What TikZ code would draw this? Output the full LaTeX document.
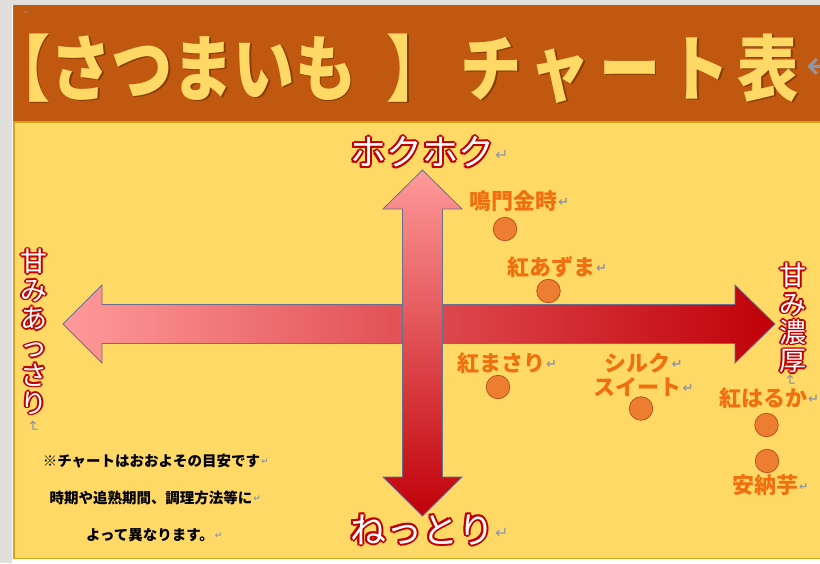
\documentclass[tikz,border=0pt]{standalone}
\usepackage{fontspec}
\setmainfont{Noto Sans CJK JP}
\newfontfamily\jp{Noto Sans CJK JP}
\newfontfamily\dv{DejaVu Sans}
\definecolor{pagegray}{HTML}{E1DFDC}
\definecolor{titlebrown}{HTML}{C0580F}
\definecolor{titleyellow}{HTML}{FFD966}
\definecolor{titleshadow}{HTML}{8A3C08}
\definecolor{paper}{HTML}{FFD966}
\definecolor{goldline}{HTML}{D9A21A}
\definecolor{pageedge}{HTML}{5B7FB5}
\definecolor{rimred}{HTML}{C00000}
\definecolor{lightpink}{HTML}{FF9A9A}
\definecolor{darkred}{HTML}{C00008}
\definecolor{arrowedge}{HTML}{6B6F8F}
\definecolor{orangetxt}{HTML}{F0700F}
\definecolor{dotfill}{HTML}{ED7D31}
\definecolor{dotedge}{HTML}{B8571E}
\definecolor{markgray}{HTML}{8E97A8}
\newcommand\rimtxt[2][2pt]{{\setbox0\hbox{#2}\dimen0=#1\relax\dimen2=0.7071\dimen0
\color{rimred}%
\rlap{\kern\dimen0\copy0}\rlap{\kern-\dimen0\copy0}%
\rlap{\raise\dimen0\copy0}\rlap{\lower\dimen0\copy0}%
\rlap{\kern\dimen2\raise\dimen2\copy0}\rlap{\kern-\dimen2\raise\dimen2\copy0}%
\rlap{\kern\dimen2\lower\dimen2\copy0}\rlap{\kern-\dimen2\lower\dimen2\copy0}%
\color{white}\box0}}
\newcommand\vrimline[1]{\rimtxt[1.6pt]{#1}}
\newcommand\shadowtxt[1]{{\setbox0\hbox{#1}\color{titleshadow}\rlap{\kern1.8pt\lower1.8pt\copy0}\color{titleyellow}\box0}}
\newcommand\pmark[1][11]{{\dv\color{markgray}\fontsize{#1}{#1}\selectfont ↵}}
\newcommand\lmark[2][12]{\rlap{\kern1pt\raise#2\hbox{\pmark[#1]}}}
\newcommand\kk{\kern9.6pt}
\begin{document}
\lineskiplimit=-30pt
\lineskip=0pt
\begin{tikzpicture}[x=1pt,y=-1pt,
  rimlabel/.style={inner sep=0pt, font=\jp\fontsize{36}{36}\selectfont},
  vrim/.style={inner sep=0pt, align=center, font=\jp\fontsize{27}{28.3}\selectfont},
  variety/.style={inner sep=0pt, text=orangetxt, align=center, font=\jp\bfseries\fontsize{22}{24}\selectfont},
  dot/.style={circle, inner sep=0pt, minimum size=23.5pt, fill=dotfill, draw=dotedge, line width=0.8pt},
  note/.style={inner sep=0pt, font=\jp\bfseries\fontsize{14.5}{14.5}\selectfont},
  bigarrow/.style={draw=arrowedge, line width=0.8pt, line join=miter}
]
\useasboundingbox (0,0) rectangle (820,563);
% page background
\fill[pagegray] (0,0) rectangle (820,563);
\fill[white] (12,5) rectangle (820,563);
\fill[titlebrown] (13,5) rectangle (820,122);
\draw[pageedge, line width=1pt] (13.5,5) -- (13.5,122);
\fill[paper] (14,122) rectangle (820,558);
\draw[goldline, line width=1.2pt] (820,122) -- (14,122) -- (14,558.5) -- (820,558.5);
% title
\node[inner sep=0pt, anchor=base west, font=\jp\bfseries\fontsize{72}{72}\selectfont] (title) at (-11,95) {\shadowtxt{\scalebox{0.85}[1]{【さつまいも\kern36pt】\kern14.4pt チ\kk ャ\kk ー\kk ト\kk 表}}};
\node[inner sep=0pt, anchor=west] (titlemark) at (806,67) {\pmark[40]};
\node[inner sep=0pt] (topmark) at (27,13) {\pmark[6]};
% arrows
\path[bigarrow, left color=lightpink, right color=darkred]
  (63,324) -- (102,285) -- (102,304.5) -- (735,304.5) -- (735,285) -- (775,324)
  -- (735,363) -- (735,343.5) -- (102,343.5) -- (102,363) -- cycle;
\path[bigarrow, top color=lightpink, bottom color=darkred]
  (422.5,170) -- (462,209) -- (442.5,209) -- (442.5,477) -- (462,477) -- (422.5,516)
  -- (383,477) -- (402.5,477) -- (402.5,209) -- (383,209) -- cycle;
% axis labels
\node[rimlabel] (hoku) at (422,152) {\rimtxt{ホクホク}\lmark[16]{5pt}};
\node[rimlabel] (netto) at (422,530) {\rimtxt{ねっとり}\lmark[16]{5pt}};
\node[vrim] (assari) at (34,332) {\vrimline{甘}\\\vrimline{み}\\\vrimline{あ}\\\vrimline{っ}\\\vrimline{さ}\\\vrimline{り}};
\node[inner sep=0pt, rotate=-90] (assarimark) at (33,427) {\pmark[15]};
\node[vrim] (noukou) at (793,318) {\vrimline{甘}\\\vrimline{み}\\\vrimline{濃}\\\vrimline{厚}};
\node[inner sep=0pt, rotate=-90] (noukoumark) at (790,381) {\pmark[15]};
% varieties
\node[variety] (naruto) at (513,201) {鳴門金時\lmark[13]{3pt}};
\node[dot] (dnaruto) at (505,229) {};
\node[variety] (azuma) at (551,267) {紅あずま\lmark[13]{3pt}};
\node[dot] (dazuma) at (548.5,291) {};
\node[variety] (masari) at (501,363) {紅まさり\lmark[13]{3pt}};
\node[dot] (dmasari) at (498,387) {};
\node[variety] (silk) at (637.5,375) {シルク\lmark[13]{3pt}\\スイート\lmark[13]{3pt}};
\node[dot] (dsilk) at (641,408.5) {};
\node[variety] (haruka) at (763,398) {紅はるか\lmark[13]{3pt}};
\node[dot] (dharuka) at (766.5,425) {};
\node[dot] (dannou) at (767,461) {};
\node[variety] (annou) at (765,485) {安納芋\lmark[11]{3pt}};
% note
\node[note] (note1) at (151.5,461.5) {※チャートはおおよその目安です\lmark[9]{2pt}};
\node[note] (note2) at (151,498) {時期や追熟期間、調理方法等に\lmark[9]{2pt}};
\node[note] (note3) at (150,535) {よって異なります。\lmark[9]{2pt}};
\end{tikzpicture}
\end{document}
